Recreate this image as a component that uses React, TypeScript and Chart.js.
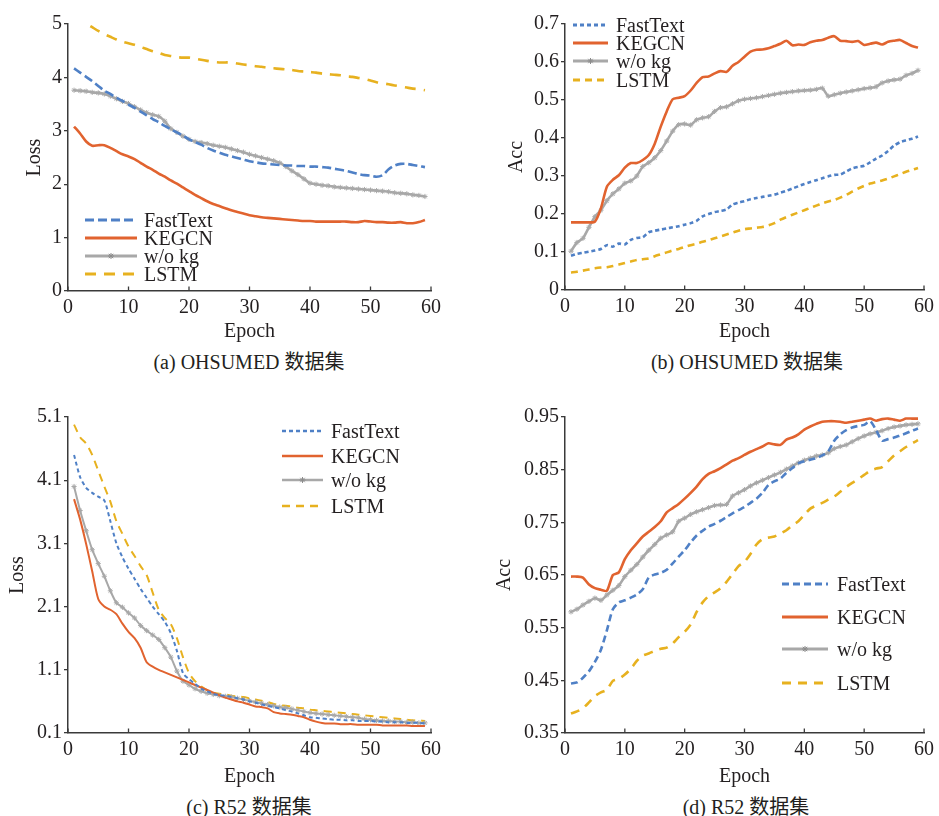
import React, { useEffect, useRef } from "react";
import { Chart, registerables } from "chart.js";

Chart.register(...registerables);

const EPOCHS = [
  1, 2, 3, 4, 5, 6, 7, 8, 9, 10, 11, 12, 13, 14, 15, 16, 17, 18, 19, 20,
  21, 22, 23, 24, 25, 26, 27, 28, 29, 30, 31, 32, 33, 34, 35, 36, 37, 38, 39, 40,
  41, 42, 43, 44, 45, 46, 47, 48, 49, 50, 51, 52, 53, 54, 55, 56, 57, 58, 59,
];

const SERIES_NAMES = ["FastText", "KEGCN", "w/o kg", "LSTM"];
const X_TITLE = "Epoch";
const CAPTIONS = ["(a) OHSUMED 数据集", "(b) OHSUMED 数据集", "(c) R52 数据集", "(d) R52 数据集"];
const Y_TITLES = ["Loss", "Acc", "Loss", "Acc"];

// (a) OHSUMED loss
const A_FASTTEXT = [
  4.17, 4.09, 4.01, 3.93, 3.84, 3.75, 3.69, 3.62, 3.56, 3.49,
  3.43, 3.36, 3.29, 3.22, 3.16, 3.09, 3.03, 2.97, 2.91, 2.84,
  2.79, 2.74, 2.68, 2.63, 2.59, 2.55, 2.52, 2.49, 2.46, 2.43,
  2.41, 2.39, 2.38, 2.37, 2.36, 2.35, 2.35, 2.34, 2.34, 2.33,
  2.33, 2.32, 2.31, 2.29, 2.27, 2.25, 2.22, 2.19, 2.17, 2.16,
  2.14, 2.17, 2.28, 2.35, 2.38, 2.38, 2.36, 2.34, 2.32,
];
const A_KEGCN = [
  3.08, 2.95, 2.8, 2.72, 2.73, 2.73, 2.68, 2.62, 2.56, 2.52,
  2.47, 2.4, 2.33, 2.27, 2.2, 2.14, 2.07, 2.01, 1.94, 1.87,
  1.8, 1.74, 1.68, 1.63, 1.59, 1.55, 1.51, 1.48, 1.45, 1.42,
  1.4, 1.38, 1.37, 1.36, 1.35, 1.34, 1.33, 1.32, 1.31, 1.31,
  1.3, 1.3, 1.3, 1.3, 1.3, 1.3, 1.29, 1.29, 1.31, 1.3,
  1.29, 1.29, 1.28, 1.28, 1.29, 1.27, 1.27, 1.29, 1.33,
];
const A_WOKG = [
  3.76, 3.75, 3.74, 3.72, 3.71, 3.69, 3.65, 3.6, 3.55, 3.51,
  3.45, 3.39, 3.34, 3.3, 3.27, 3.18, 3.04, 2.97, 2.9, 2.84,
  2.8, 2.78, 2.76, 2.73, 2.71, 2.69, 2.66, 2.63, 2.6, 2.56,
  2.53, 2.5, 2.47, 2.44, 2.4, 2.33, 2.25, 2.18, 2.1, 2.02,
  2.0, 1.98, 1.97, 1.95, 1.94, 1.93, 1.92, 1.91, 1.9, 1.89,
  1.88, 1.87, 1.86, 1.84, 1.83, 1.82, 1.8, 1.79, 1.77,
];
const A_LSTM = [
  5.15, 5.08, 5.01, 4.94, 4.87, 4.81, 4.76, 4.71, 4.67, 4.64,
  4.61, 4.57, 4.53, 4.49, 4.46, 4.42, 4.4, 4.38, 4.37, 4.37,
  4.35, 4.33, 4.31, 4.29, 4.28, 4.28, 4.28, 4.26, 4.24, 4.23,
  4.21, 4.2, 4.18, 4.17, 4.16, 4.15, 4.14, 4.12, 4.11, 4.1,
  4.09, 4.07, 4.06, 4.05, 4.04, 4.02, 4.01, 3.99, 3.97, 3.94,
  3.91, 3.89, 3.87, 3.85, 3.83, 3.81, 3.79, 3.78, 3.76,
];

// (b) OHSUMED accuracy
const B_FASTTEXT = [
  0.09, 0.095, 0.098, 0.101, 0.104, 0.108, 0.118, 0.114, 0.122, 0.12,
  0.132, 0.137, 0.139, 0.152, 0.156, 0.159, 0.162, 0.165, 0.168, 0.172,
  0.176, 0.182, 0.194, 0.2, 0.205, 0.208, 0.212, 0.225, 0.23, 0.234,
  0.239, 0.242, 0.245, 0.248, 0.251, 0.256, 0.261, 0.267, 0.273, 0.279,
  0.284, 0.289, 0.294, 0.299, 0.303, 0.304, 0.312, 0.32, 0.324, 0.327,
  0.336, 0.346, 0.354, 0.366, 0.38, 0.389, 0.394, 0.398, 0.404,
];
const B_KEGCN = [
  0.178, 0.178, 0.178, 0.178, 0.18, 0.215, 0.272, 0.29, 0.302, 0.322,
  0.334, 0.334, 0.342, 0.355, 0.385, 0.43, 0.47, 0.502, 0.506, 0.51,
  0.525, 0.545, 0.56, 0.562, 0.57, 0.576, 0.574, 0.59, 0.6, 0.614,
  0.627, 0.632, 0.633, 0.636, 0.642, 0.648, 0.656, 0.644, 0.646, 0.645,
  0.652, 0.656, 0.658, 0.664, 0.668, 0.656, 0.655, 0.653, 0.655, 0.645,
  0.648, 0.651, 0.646, 0.653, 0.656, 0.658, 0.65, 0.642, 0.638,
];
const B_WOKG = [
  0.102, 0.125, 0.136, 0.165, 0.193, 0.21, 0.235, 0.253, 0.266, 0.281,
  0.287, 0.3, 0.325, 0.335, 0.348, 0.367, 0.392, 0.418, 0.435, 0.437,
  0.434, 0.448, 0.453, 0.456, 0.47, 0.48, 0.482, 0.49, 0.498, 0.502,
  0.504, 0.506, 0.509, 0.512, 0.515, 0.518, 0.52, 0.522, 0.524, 0.525,
  0.526, 0.528, 0.531, 0.51, 0.514, 0.518, 0.521, 0.524, 0.527, 0.53,
  0.532, 0.535, 0.545, 0.55, 0.553, 0.555, 0.565, 0.57, 0.578,
];
const B_LSTM = [
  0.046, 0.048, 0.051, 0.054, 0.057, 0.059, 0.06, 0.063, 0.067, 0.071,
  0.075, 0.079, 0.081, 0.083, 0.089, 0.094, 0.099, 0.104, 0.108, 0.113,
  0.118, 0.122, 0.127, 0.131, 0.136, 0.141, 0.146, 0.151, 0.156, 0.16,
  0.162, 0.164, 0.166, 0.17, 0.176, 0.185, 0.192, 0.198, 0.204, 0.21,
  0.216, 0.222, 0.228, 0.233, 0.237, 0.243, 0.25, 0.259, 0.267, 0.274,
  0.28, 0.284, 0.288, 0.293, 0.299, 0.305, 0.311, 0.316, 0.321,
];

// (c) R52 loss
const C_FASTTEXT = [
  4.5, 4.15, 3.98, 3.9, 3.84, 3.78, 3.45, 3.1, 2.88, 2.7,
  2.54, 2.38, 2.24, 2.1, 1.98, 1.86, 1.68, 1.4, 1.05, 0.95,
  0.88, 0.8, 0.76, 0.72, 0.7, 0.69, 0.67, 0.65, 0.63, 0.6,
  0.58, 0.55, 0.53, 0.51, 0.49, 0.46, 0.44, 0.41, 0.38, 0.35,
  0.34, 0.33, 0.32, 0.31, 0.31, 0.3, 0.3, 0.29, 0.29, 0.29,
  0.28, 0.28, 0.27, 0.27, 0.27, 0.26, 0.26, 0.26, 0.25,
];
const C_KEGCN = [
  3.8, 3.48, 3.09, 2.66, 2.22, 2.1, 2.05, 1.98, 1.83, 1.7,
  1.6, 1.45, 1.22, 1.15, 1.1, 1.06, 1.02, 0.98, 0.94, 0.9,
  0.86, 0.82, 0.78, 0.74, 0.7, 0.66, 0.63, 0.6, 0.58, 0.55,
  0.52, 0.51, 0.49, 0.43, 0.41, 0.4, 0.39, 0.37, 0.35, 0.31,
  0.28, 0.26, 0.25, 0.25, 0.24, 0.24, 0.24, 0.23, 0.23, 0.23,
  0.23, 0.22, 0.22, 0.22, 0.22, 0.22, 0.21, 0.21, 0.21,
];
const C_WOKG = [
  4.0, 3.62, 3.3, 3.0, 2.78, 2.58, 2.35, 2.16, 2.09, 2.0,
  1.92, 1.8, 1.72, 1.65, 1.58, 1.45, 1.3, 1.08, 0.92, 0.86,
  0.8, 0.76, 0.73, 0.71, 0.69, 0.68, 0.67, 0.65, 0.63, 0.61,
  0.59, 0.57, 0.55, 0.53, 0.51, 0.5, 0.48, 0.46, 0.44, 0.42,
  0.41, 0.4, 0.39, 0.38, 0.37, 0.36, 0.35, 0.34, 0.32, 0.31,
  0.3, 0.29, 0.29, 0.28, 0.28, 0.27, 0.27, 0.26, 0.26,
];
const C_LSTM = [
  4.98, 4.78, 4.68, 4.5, 4.25, 4.0, 3.76, 3.45, 3.25, 3.05,
  2.9, 2.74, 2.6, 2.32, 2.05, 1.92, 1.82, 1.6, 1.3, 1.05,
  0.92, 0.84, 0.78, 0.74, 0.72, 0.71, 0.69, 0.68, 0.67, 0.65,
  0.63, 0.61, 0.59, 0.56, 0.54, 0.53, 0.52, 0.5, 0.49, 0.47,
  0.46, 0.45, 0.44, 0.43, 0.42, 0.41, 0.4, 0.39, 0.38, 0.37,
  0.36, 0.35, 0.34, 0.33, 0.32, 0.31, 0.3, 0.3, 0.29,
];

// (d) R52 accuracy
const D_FASTTEXT = [
  0.444, 0.446, 0.455, 0.467, 0.485, 0.508, 0.545, 0.585, 0.598, 0.602,
  0.607, 0.613, 0.623, 0.645, 0.651, 0.654, 0.66, 0.672, 0.685, 0.697,
  0.712, 0.725, 0.734, 0.742, 0.747, 0.753, 0.76, 0.767, 0.773, 0.779,
  0.787, 0.795, 0.806, 0.821, 0.828, 0.833, 0.844, 0.853, 0.862, 0.866,
  0.869, 0.872, 0.877, 0.885, 0.905, 0.917, 0.925, 0.93, 0.933, 0.935,
  0.942, 0.925, 0.905, 0.908, 0.911, 0.915, 0.919, 0.924, 0.928,
];
const D_KEGCN = [
  0.647, 0.647, 0.645, 0.632, 0.625, 0.622, 0.62, 0.65, 0.655, 0.68,
  0.697, 0.71, 0.723, 0.732, 0.741, 0.752, 0.769, 0.777, 0.785, 0.795,
  0.806, 0.818, 0.832, 0.842, 0.847, 0.853, 0.86, 0.867, 0.872, 0.878,
  0.884, 0.889, 0.894, 0.9, 0.898, 0.897, 0.907, 0.911, 0.917, 0.926,
  0.932, 0.937, 0.941, 0.942, 0.942, 0.941, 0.939, 0.941, 0.943, 0.945,
  0.947, 0.943, 0.946, 0.947, 0.945, 0.943, 0.947, 0.947, 0.947,
];
const D_WOKG = [
  0.58, 0.585, 0.593, 0.6, 0.606, 0.602, 0.612, 0.621, 0.63, 0.647,
  0.659, 0.67, 0.684, 0.697, 0.708, 0.72, 0.726, 0.732, 0.752, 0.758,
  0.765, 0.77, 0.774, 0.778, 0.782, 0.783, 0.784, 0.8, 0.806, 0.812,
  0.819, 0.825, 0.83, 0.835, 0.84, 0.845, 0.851, 0.857, 0.863, 0.868,
  0.872, 0.876, 0.878, 0.882, 0.89, 0.894, 0.897, 0.903, 0.909, 0.914,
  0.918, 0.921, 0.924, 0.928, 0.931, 0.933, 0.935, 0.936, 0.937,
];
const D_LSTM = [
  0.387, 0.391, 0.397, 0.408, 0.42, 0.427, 0.432, 0.449, 0.453, 0.461,
  0.472, 0.487, 0.497, 0.501, 0.506, 0.51, 0.512, 0.52, 0.532, 0.542,
  0.556, 0.58, 0.598, 0.61, 0.617, 0.625, 0.637, 0.652, 0.667, 0.675,
  0.69, 0.708, 0.718, 0.721, 0.723, 0.729, 0.735, 0.744, 0.752, 0.764,
  0.776, 0.782, 0.787, 0.793, 0.799, 0.808, 0.817, 0.825, 0.832, 0.84,
  0.848, 0.852, 0.855, 0.866, 0.877, 0.885, 0.893, 0.9, 0.906,
];

const BLUE = "#4f80c6";
const ORANGE = "#e1632f";
const GRAY = "#a8a8a8";
const YELLOW = "#e7b11f";
const INK = "#231f20";
const AXIS = "#3a3a3a";
const FONT = '"Liberation Serif", "Times New Roman", serif';

type PanelCfg = {
  left: number; top: number; w: number; h: number;
  padTop: number; padRight: number; yWidth: number; xHeight: number; yTitlePad: number;
  yMin: number; yMax: number; yStep: number; yDec: number;
  lw: number; ftDash: number[]; lstmDash: number[];
  series: number[][]; yTitle: string;
  legX: number; legLen: number; legTextX: number; legRows: number[];
  caption: string; capX: number; capY: number;
};

const PANELS: PanelCfg[] = [
  {
    left: 0, top: 0, w: 465, h: 345, padTop: 24, padRight: 34, yWidth: 68, xHeight: 54, yTitlePad: 23,
    yMin: 0, yMax: 5, yStep: 1, yDec: 0, lw: 2.6, ftDash: [9, 4], lstmDash: [11, 8],
    series: [A_FASTTEXT, A_KEGCN, A_WOKG, A_LSTM], yTitle: Y_TITLES[0],
    legX: 85, legLen: 52, legTextX: 144, legRows: [219.5, 237.5, 255.5, 273.5],
    caption: CAPTIONS[0], capX: 249, capY: 362,
  },
  {
    left: 470, top: 0, w: 469, h: 345, padTop: 24, padRight: 10, yWidth: 95, xHeight: 55, yTitlePad: 35,
    yMin: 0, yMax: 0.7, yStep: 0.1, yDec: 1, lw: 2.6, ftDash: [4, 3], lstmDash: [7, 5],
    series: [B_FASTTEXT, B_KEGCN, B_WOKG, B_LSTM], yTitle: Y_TITLES[1],
    legX: 573, legLen: 35, legTextX: 616, legRows: [25, 43, 61, 79.5],
    caption: CAPTIONS[1], capX: 747, capY: 362,
  },
  {
    left: 0, top: 390, w: 465, h: 400, padTop: 27, padRight: 34, yWidth: 68, xHeight: 57, yTitlePad: 6,
    yMin: 0.1, yMax: 5.1, yStep: 1, yDec: 1, lw: 2, ftDash: [4, 3], lstmDash: [8, 6],
    series: [C_FASTTEXT, C_KEGCN, C_WOKG, C_LSTM], yTitle: Y_TITLES[2],
    legX: 282, legLen: 41, legTextX: 331, legRows: [431, 455.5, 480, 506],
    caption: CAPTIONS[2], capX: 249, capY: 807,
  },
  {
    left: 470, top: 390, w: 469, h: 400, padTop: 27, padRight: 10, yWidth: 95, xHeight: 57, yTitlePad: 23,
    yMin: 0.35, yMax: 0.95, yStep: 0.1, yDec: 2, lw: 2.6, ftDash: [7, 4], lstmDash: [9, 7],
    series: [D_FASTTEXT, D_KEGCN, D_WOKG, D_LSTM], yTitle: Y_TITLES[3],
    legX: 782, legLen: 46, legTextX: 837, legRows: [584, 616.5, 648.5, 683],
    caption: CAPTIONS[3], capX: 746, capY: 807,
  },
];

const innerTicks = {
  id: "innerTicks",
  afterDraw(chart: any) {
    const xs = chart.scales.x;
    const bottom = chart.chartArea.bottom;
    const ctx = chart.ctx;
    ctx.save();
    ctx.strokeStyle = AXIS;
    ctx.lineWidth = 1.3;
    xs.ticks.forEach((t: any) => {
      const px = xs.getPixelForValue(t.value);
      ctx.beginPath();
      ctx.moveTo(px, bottom);
      ctx.lineTo(px, bottom - 4.5);
      ctx.stroke();
    });
    ctx.restore();
  },
};

function ChartPanel({ p }: { p: PanelCfg }) {
  const ref = useRef<HTMLCanvasElement>(null);
  useEffect(() => {
    if (!ref.current) return;
    const [ft, kg, wo, ls] = p.series;
    const chart = new Chart(ref.current, {
      type: "line",
      data: {
        labels: EPOCHS,
        datasets: [
          { label: SERIES_NAMES[0], data: ft, borderColor: BLUE, borderDash: p.ftDash, borderWidth: p.lw, pointRadius: 0, tension: 0.25, fill: false },
          { label: SERIES_NAMES[1], data: kg, borderColor: ORANGE, borderWidth: p.lw, pointRadius: 0, tension: 0.25, fill: false },
          {
            label: SERIES_NAMES[2], data: wo, borderColor: GRAY, borderWidth: p.lw, pointStyle: "star", pointRadius: 2.6,
            pointBorderColor: GRAY, pointBackgroundColor: GRAY, pointBorderWidth: 1, tension: 0.25, fill: false,
          },
          { label: SERIES_NAMES[3], data: ls, borderColor: YELLOW, borderDash: p.lstmDash, borderWidth: p.lw, pointRadius: 0, tension: 0.25, fill: false },
        ],
      },
      options: {
        responsive: false,
        animation: false,
        events: [],
        layout: { padding: { top: p.padTop, right: p.padRight, bottom: 0, left: 0 } },
        plugins: { legend: { display: false }, tooltip: { enabled: false }, title: { display: false } },
        scales: {
          x: {
            type: "linear",
            min: 0,
            max: 60,
            ticks: { stepSize: 10, padding: 5, color: INK, font: { family: FONT, size: 20 }, maxRotation: 0, autoSkip: false },
            grid: { display: false, drawTicks: false },
            border: { display: true, color: AXIS, width: 1.5 },
            title: { display: true, text: X_TITLE, color: INK, font: { family: FONT, size: 20 }, padding: { top: 0, bottom: 1 } },
            afterFit: (s: any) => { s.height = p.xHeight; },
          },
          y: {
            type: "linear",
            min: p.yMin,
            max: p.yMax,
            ticks: {
              stepSize: p.yStep,
              padding: 2,
              color: INK,
              font: { family: FONT, size: 20 },
              callback: (v: any) => (Math.abs(Number(v)) < 1e-9 ? "0" : Number(v).toFixed(p.yDec)),
            },
            grid: { display: true, drawOnChartArea: false, drawTicks: true, tickLength: 4, color: AXIS, lineWidth: 1.3 },
            border: { display: true, color: AXIS, width: 1.5 },
            title: { display: true, text: p.yTitle, color: INK, font: { family: FONT, size: 20 }, padding: { top: p.yTitlePad, bottom: 0 } },
            afterFit: (s: any) => { s.width = p.yWidth; },
          },
        },
      },
      plugins: [innerTicks],
    } as any);
    return () => chart.destroy();
  }, [p]);

  const colors = [BLUE, ORANGE, GRAY, YELLOW];
  const dashes = [p.ftDash, null, null, p.lstmDash];

  return (
    <>
      <canvas
        ref={ref}
        width={p.w}
        height={p.h}
        style={{ position: "absolute", left: p.left, top: p.top, width: p.w, height: p.h }}
      />
      {SERIES_NAMES.map((name, i) => (
        <div
          key={name}
          style={{
            position: "absolute",
            left: p.legX,
            top: p.legRows[i] - 10,
            height: 20,
            display: "flex",
            alignItems: "center",
            whiteSpace: "nowrap",
          }}
        >
          <svg width={p.legLen} height={20} style={{ display: "block" }}>
            <line
              x1={0}
              y1={10}
              x2={p.legLen}
              y2={10}
              stroke={colors[i]}
              strokeWidth={p.lw + 0.4}
              strokeDasharray={dashes[i] ? (dashes[i] as number[]).join(" ") : undefined}
            />
            {i === 2 && (
              <path
                d={`M${p.legLen / 2 - 3} 10 L${p.legLen / 2 + 3} 10 M${p.legLen / 2} 7 L${p.legLen / 2} 13 M${p.legLen / 2 - 2.2} 7.8 L${p.legLen / 2 + 2.2} 12.2 M${p.legLen / 2 + 2.2} 7.8 L${p.legLen / 2 - 2.2} 12.2`}
                stroke="#8c8c8c"
                strokeWidth={1}
              />
            )}
          </svg>
          <span
            style={{
              marginLeft: p.legTextX - p.legX - p.legLen,
              fontFamily: FONT,
              fontSize: 20,
              lineHeight: "20px",
              color: INK,
            }}
          >
            {name}
          </span>
        </div>
      ))}
      <div
        style={{
          position: "absolute",
          left: p.capX - 160,
          width: 320,
          top: p.capY - 12,
          lineHeight: "24px",
          textAlign: "center",
          fontFamily: '"Liberation Serif", "Noto Sans CJK SC", serif',
          fontSize: 20,
          color: INK,
          whiteSpace: "nowrap",
        }}
      >
        {p.caption}
      </div>
    </>
  );
}

export default function App() {
  return (
    <div
      style={{
        position: "absolute",
        left: 0,
        top: 0,
        width: 939,
        height: 816,
        background: "#ffffff",
        overflow: "hidden",
      }}
    >
      {PANELS.map((p, i) => (
        <ChartPanel key={i} p={p} />
      ))}
    </div>
  );
}
